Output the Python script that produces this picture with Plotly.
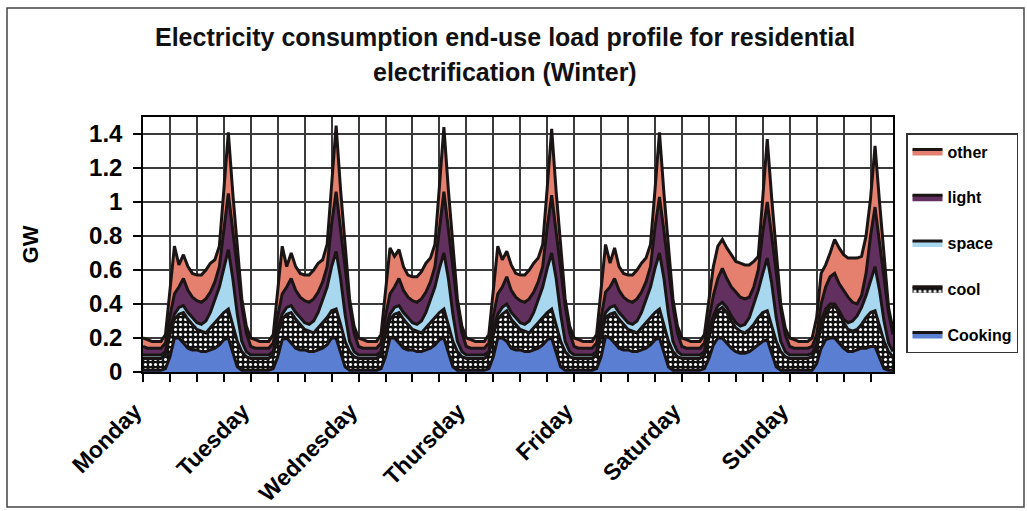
import plotly.graph_objects as go

# ---------------- data (GW, hourly, Monday 00:00 .. Sunday 23:00) ----------------
day_labels = ["Monday", "Tuesday", "Wednesday", "Thursday", "Friday", "Saturday", "Sunday"]
hours = list(range(168))

cooking = [
    # Monday
    0.01,0.01,0.01,0.01,0.01,0.02,0.09,0.20,0.20,0.17,0.14,0.13,0.13,0.12,0.12,0.13,0.14,0.16,0.19,0.20,0.12,0.03,0.01,0.01,
    # Tuesday
    0.01,0.01,0.01,0.01,0.01,0.02,0.09,0.19,0.20,0.17,0.14,0.13,0.13,0.12,0.12,0.13,0.14,0.16,0.20,0.20,0.12,0.03,0.01,0.01,
    # Wednesday
    0.01,0.01,0.01,0.01,0.01,0.02,0.09,0.20,0.20,0.17,0.14,0.13,0.13,0.12,0.12,0.13,0.14,0.16,0.19,0.20,0.12,0.03,0.01,0.01,
    # Thursday
    0.01,0.01,0.01,0.01,0.01,0.02,0.09,0.20,0.20,0.18,0.14,0.13,0.13,0.12,0.12,0.13,0.14,0.16,0.19,0.20,0.12,0.03,0.01,0.01,
    # Friday
    0.01,0.01,0.01,0.01,0.01,0.02,0.09,0.21,0.20,0.17,0.14,0.13,0.13,0.12,0.12,0.13,0.14,0.16,0.19,0.20,0.12,0.03,0.01,0.01,
    # Saturday
    0.01,0.01,0.01,0.01,0.01,0.02,0.08,0.16,0.20,0.20,0.17,0.14,0.12,0.11,0.11,0.12,0.14,0.16,0.18,0.19,0.11,0.03,0.01,0.01,
    # Sunday
    0.01,0.01,0.01,0.01,0.01,0.01,0.05,0.14,0.19,0.20,0.20,0.17,0.14,0.12,0.12,0.13,0.14,0.14,0.15,0.15,0.08,0.02,0.01,0.01,
]

cool = [
    0.07,0.07,0.07,0.07,0.07,0.08,0.13,0.11,0.14,0.18,0.17,0.15,0.12,0.12,0.11,0.13,0.15,0.16,0.16,0.17,0.16,0.15,0.11,0.08,
    0.07,0.07,0.07,0.07,0.07,0.08,0.13,0.12,0.14,0.18,0.17,0.15,0.12,0.12,0.11,0.13,0.15,0.16,0.16,0.17,0.16,0.15,0.11,0.08,
    0.07,0.07,0.07,0.07,0.07,0.08,0.13,0.11,0.14,0.18,0.17,0.15,0.12,0.12,0.11,0.13,0.15,0.16,0.16,0.17,0.16,0.15,0.11,0.08,
    0.07,0.07,0.07,0.07,0.07,0.08,0.13,0.11,0.14,0.18,0.17,0.15,0.12,0.12,0.11,0.13,0.15,0.16,0.16,0.17,0.16,0.15,0.11,0.08,
    0.07,0.07,0.07,0.07,0.07,0.08,0.13,0.11,0.14,0.18,0.17,0.15,0.12,0.12,0.11,0.13,0.15,0.16,0.16,0.17,0.16,0.15,0.11,0.08,
    0.07,0.07,0.07,0.07,0.07,0.08,0.12,0.14,0.16,0.18,0.18,0.16,0.14,0.13,0.12,0.13,0.14,0.16,0.17,0.17,0.16,0.15,0.11,0.08,
    0.07,0.07,0.07,0.07,0.07,0.08,0.09,0.13,0.15,0.18,0.19,0.18,0.15,0.13,0.12,0.12,0.14,0.18,0.20,0.21,0.19,0.16,0.11,0.08,
]

space = [
    0.02,0.02,0.02,0.02,0.02,0.02,0.03,0.03,0.04,0.04,0.04,0.04,0.04,0.04,0.07,0.09,0.13,0.18,0.26,0.35,0.27,0.16,0.06,0.03,
    0.02,0.02,0.02,0.02,0.02,0.02,0.03,0.03,0.04,0.04,0.04,0.04,0.04,0.04,0.07,0.09,0.13,0.18,0.26,0.34,0.27,0.16,0.06,0.03,
    0.02,0.02,0.02,0.02,0.02,0.02,0.03,0.03,0.04,0.04,0.04,0.04,0.04,0.04,0.07,0.09,0.13,0.18,0.26,0.33,0.27,0.16,0.06,0.03,
    0.02,0.02,0.02,0.02,0.02,0.02,0.03,0.03,0.04,0.04,0.04,0.04,0.04,0.04,0.07,0.09,0.13,0.18,0.26,0.33,0.27,0.16,0.06,0.03,
    0.02,0.02,0.02,0.02,0.02,0.02,0.03,0.03,0.04,0.04,0.04,0.04,0.04,0.04,0.07,0.09,0.13,0.18,0.26,0.33,0.27,0.16,0.06,0.03,
    0.02,0.02,0.02,0.02,0.02,0.02,0.04,0.03,0.03,0.03,0.03,0.03,0.03,0.03,0.05,0.07,0.12,0.16,0.23,0.31,0.25,0.14,0.06,0.03,
    0.02,0.02,0.02,0.02,0.02,0.02,0.02,0.03,0.03,0.02,0.01,0.01,0.02,0.04,0.06,0.08,0.10,0.13,0.19,0.26,0.21,0.12,0.05,0.03,
]

light = [
    0.05,0.04,0.04,0.04,0.04,0.05,0.08,0.12,0.12,0.16,0.13,0.12,0.13,0.13,0.13,0.12,0.11,0.12,0.24,0.33,0.28,0.27,0.21,0.11,
    0.05,0.04,0.04,0.04,0.04,0.05,0.08,0.12,0.12,0.16,0.13,0.12,0.13,0.13,0.13,0.12,0.11,0.12,0.25,0.35,0.29,0.27,0.21,0.11,
    0.05,0.04,0.04,0.04,0.04,0.05,0.08,0.12,0.12,0.16,0.13,0.12,0.13,0.13,0.13,0.12,0.11,0.12,0.25,0.36,0.29,0.27,0.21,0.11,
    0.05,0.04,0.04,0.04,0.04,0.05,0.08,0.12,0.12,0.16,0.13,0.12,0.13,0.13,0.13,0.12,0.11,0.12,0.24,0.34,0.28,0.27,0.21,0.11,
    0.05,0.04,0.04,0.04,0.04,0.05,0.08,0.12,0.12,0.16,0.13,0.12,0.13,0.13,0.13,0.12,0.11,0.12,0.24,0.33,0.28,0.27,0.21,0.11,
    0.05,0.04,0.04,0.04,0.04,0.05,0.06,0.12,0.16,0.20,0.17,0.17,0.18,0.17,0.15,0.12,0.10,0.12,0.24,0.33,0.28,0.26,0.19,0.10,
    0.05,0.04,0.04,0.04,0.04,0.04,0.06,0.10,0.13,0.16,0.18,0.16,0.17,0.15,0.11,0.07,0.07,0.13,0.26,0.35,0.28,0.25,0.18,0.10,
]

other = [
    0.05,0.05,0.04,0.04,0.04,0.05,0.14,0.28,0.13,0.14,0.14,0.14,0.15,0.16,0.17,0.17,0.13,0.12,0.22,0.36,0.22,0.13,0.04,0.04,
    0.05,0.05,0.04,0.04,0.04,0.05,0.14,0.28,0.12,0.15,0.14,0.14,0.15,0.16,0.17,0.17,0.13,0.13,0.23,0.39,0.23,0.13,0.04,0.04,
    0.05,0.05,0.04,0.04,0.04,0.05,0.14,0.27,0.18,0.17,0.14,0.13,0.14,0.15,0.16,0.17,0.14,0.13,0.23,0.38,0.23,0.13,0.04,0.04,
    0.05,0.05,0.04,0.04,0.04,0.05,0.14,0.28,0.16,0.15,0.15,0.14,0.15,0.16,0.17,0.17,0.14,0.13,0.23,0.39,0.23,0.13,0.04,0.04,
    0.05,0.05,0.04,0.04,0.04,0.05,0.14,0.28,0.14,0.18,0.14,0.14,0.15,0.16,0.17,0.17,0.14,0.13,0.22,0.38,0.22,0.13,0.04,0.04,
    0.05,0.05,0.04,0.04,0.04,0.05,0.12,0.17,0.19,0.17,0.18,0.19,0.18,0.20,0.20,0.19,0.15,0.08,0.18,0.37,0.22,0.12,0.03,0.04,
    0.05,0.05,0.04,0.04,0.04,0.05,0.10,0.18,0.13,0.14,0.20,0.21,0.21,0.23,0.26,0.27,0.23,0.22,0.22,0.36,0.24,0.13,0.03,0.03,
]

day_tick_hours = [0, 24, 48, 72, 96, 120, 144]
y_ticks = [0, 0.2, 0.4, 0.6, 0.8, 1.0, 1.2, 1.4]

# ---------------- figure ----------------
EDGE = "#1b1414"
BOLD = "Arial"

fig = go.Figure()
# stacking order bottom -> top ; legend rank top -> bottom
series = [
    ("Cooking", cooking, "#5a7fd2", None, 5),
    ("cool", cool, "#111111", dict(shape=".", fgcolor="#ffffff", bgcolor="#111111",
                                   size=5, solidity=0.3), 4),
    ("space", space, "#a8d8ef", None, 3),
    ("light", light, "#62305e", None, 2),
    ("other", other, "#e5806f", None, 1),
]
for name, vals, col, patt, rank in series:
    kw = dict(x=hours, y=vals, name=name, mode="lines", stackgroup="one",
              line=dict(color=EDGE, width=3, shape="linear"), fillcolor=col,
              legendgroup=name, legendrank=rank,
              hovertemplate=name + ": %{y:.2f} GW<extra></extra>")
    if patt is not None:
        kw["fillpattern"] = patt
    fig.add_trace(go.Scatter(**kw))

W, H = 1027, 511
L, R, T, B = 143, 134, 117, 139
pw, ph = W - L - R, H - T - B


def px_x(p):
    return (p - L) / pw


def px_y(p):
    return (H - B - p) / ph


fig.update_layout(
    template="none",
    width=W, height=H,
    margin=dict(l=L, r=R, t=T, b=B, pad=0, autoexpand=False),
    paper_bgcolor="white", plot_bgcolor="white",
    font=dict(family=BOLD, color="black"),
    showlegend=True,
    legend=dict(
        x=px_x(906), y=px_y(133), xanchor="left", yanchor="top",
        traceorder="grouped", tracegroupgap=22,
        font=dict(family=BOLD, size=16, color="black", weight="bold"),
        bordercolor="#333333", borderwidth=1.5, bgcolor="white",
        itemwidth=30,
    ),
    annotations=[
        dict(text="<b>Electricity consumption end-use load profile for residential</b>",
             x=px_x(505), y=px_y(37), xref="paper", yref="paper",
             xanchor="center", yanchor="middle", showarrow=False,
             font=dict(family=BOLD, size=25, color="#111111")),
        dict(text="<b>electrification (Winter)</b>",
             x=px_x(505), y=px_y(72), xref="paper", yref="paper",
             xanchor="center", yanchor="middle", showarrow=False,
             font=dict(family=BOLD, size=25, color="#111111")),
    ],
    shapes=[
        dict(type="rect", xref="paper", yref="paper",
             x0=px_x(7), x1=px_x(1024), y0=px_y(507), y1=px_y(8),
             line=dict(color="#444444", width=1.5), fillcolor="rgba(0,0,0,0)", layer="below"),
    ],
)

fig.update_xaxes(
    automargin=False,
    range=[0, 167], tickmode="array", tickvals=day_tick_hours, ticktext=day_labels,
    tickangle=-45, tickfont=dict(family=BOLD, size=23, color="black", weight="bold"),
    ticks="outside", ticklen=8, tickcolor="black", tickwidth=1.5,
    showgrid=True, gridcolor="#3a3a3a", gridwidth=1.5,
    showline=True, linecolor="black", linewidth=1.5, mirror=True,
    minor=dict(tickmode="linear", tick0=0, dtick=6, showgrid=True, gridcolor="#3a3a3a",
               gridwidth=1.5, ticks="outside", ticklen=8, tickcolor="black", tickwidth=1.5),
    zeroline=False, ticklabelstandoff=7, ticklabelshift=-8,
)
fig.update_yaxes(
    automargin=False,
    range=[0, 1.5], tickmode="array", tickvals=y_ticks,
    ticktext=["0", "0.2", "0.4", "0.6", "0.8", "1", "1.2", "1.4"],
    tickfont=dict(family=BOLD, size=24, color="black", weight="bold"),
    ticks="outside", ticklen=8, tickcolor="black", tickwidth=1.5,
    showgrid=True, gridcolor="#3a3a3a", gridwidth=1.5,
    showline=True, linecolor="black", linewidth=1.5, mirror=True,
    zeroline=False, ticklabelstandoff=6,
    title=dict(text="<b>GW</b>", font=dict(family=BOLD, size=22, color="black"), standoff=44),
)

fig.write_html("out.html")
